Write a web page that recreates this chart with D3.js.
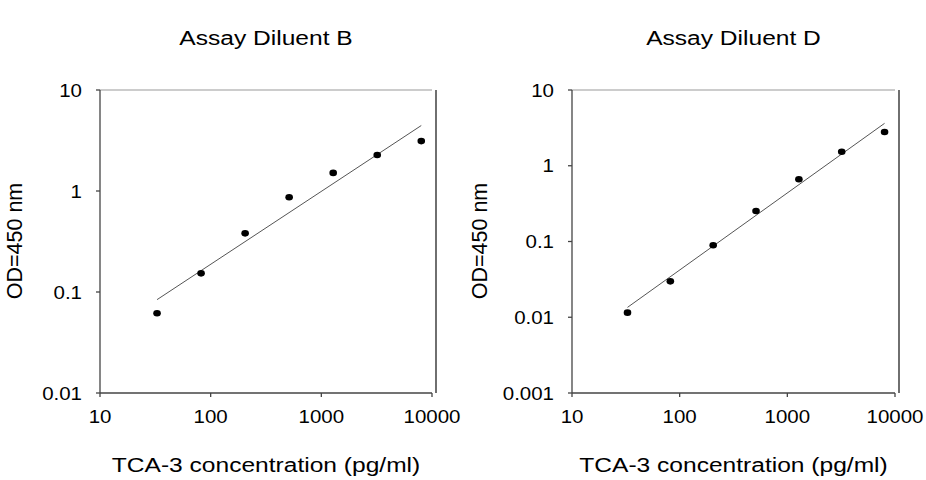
<!DOCTYPE html>
<html>
<head>
<meta charset="utf-8">
<script src="https://cdn.jsdelivr.net/npm/d3@7"></script>
<style>
	body { margin: 0; background: #fff; }
	svg { display: block; }
	text { font-family: "Liberation Sans", Arial, sans-serif; fill: #000; }
</style>
</head>
<body>
<div id="chart"></div>
<script>
// concentrations of the standard curve (pg/ml)
const concentrations = [32.768, 81.92, 204.8, 512, 1280, 3200, 8000];
// OD at 450 nm
const odDiluentB = [0.0615, 0.153, 0.381, 0.866, 1.51, 2.27, 3.12];
const odDiluentD = [0.0115, 0.0298, 0.0891, 0.253, 0.662, 1.53, 2.79];
// fitted line, value at the first and last concentration
const fitDiluentB = [0.084, 4.45];
const fitDiluentD = [0.0135, 3.63];

const xTicks = [10, 100, 1000, 10000];
const yTicksB = [0.01, 0.1, 1, 10];
const yTicksD = [0.001, 0.01, 0.1, 1, 10];

const width = 926;
const height = 480;
const stretch = 1.17; // the text in the picture is a bit wide

const svg = d3
	.select("#chart")
	.append("svg")
	.attr("width", width)
	.attr("height", height);

function drawPanel(opts) {
	const x = d3.scaleLog().domain([10, 10000]).range([opts.left, opts.right]);
	const y = d3.scaleLog().domain(opts.yDomain).range([393, 90]);

	const g = svg.append("g");
	const frameRight = opts.right + 4;

	// frame
	g.append("line")
		.attr("x1", opts.left).attr("x2", opts.right)
		.attr("y1", 90).attr("y2", 90)
		.attr("stroke", "#999").attr("stroke-width", 1.2);
	g.append("line")
		.attr("x1", frameRight).attr("x2", frameRight)
		.attr("y1", 90).attr("y2", 393)
		.attr("stroke", "#222").attr("stroke-width", 1.3);

	// x axis
	g.append("line")
		.attr("x1", opts.left).attr("x2", opts.right)
		.attr("y1", 393).attr("y2", 393)
		.attr("stroke", "#444").attr("stroke-width", 1.3);
	g.selectAll(".xtick")
		.data(xTicks)
		.enter()
		.append("line")
		.attr("x1", (d) => x(d)).attr("x2", (d) => x(d))
		.attr("y1", 393).attr("y2", 397)
		.attr("stroke", "#444").attr("stroke-width", 1.3);
	g.selectAll(".xlabel")
		.data(xTicks)
		.enter()
		.append("text")
		.attr("transform", (d) => `translate(${x(d)},423) scale(${stretch},1)`)
		.attr("text-anchor", "middle")
		.style("font-size", "17.5px")
		.text((d) => d);

	// y axis
	g.append("line")
		.attr("x1", opts.left).attr("x2", opts.left)
		.attr("y1", 90).attr("y2", 393)
		.attr("stroke", "#444").attr("stroke-width", 1.3);
	g.selectAll(".ytick")
		.data(opts.yTicks)
		.enter()
		.append("line")
		.attr("x1", opts.left - 4).attr("x2", opts.left)
		.attr("y1", (d) => y(d)).attr("y2", (d) => y(d))
		.attr("stroke", "#444").attr("stroke-width", 1.3);
	g.selectAll(".ylabel")
		.data(opts.yTicks)
		.enter()
		.append("text")
		.attr("transform", (d) => `translate(${opts.left - 18},${y(d) + 6.5}) scale(${stretch},1)`)
		.attr("text-anchor", "end")
		.style("font-size", "17.5px")
		.text((d) => d);

	// fitted line
	const line = d3.line()
		.x((d) => x(d[0]))
		.y((d) => y(d[1]));
	const ends = [concentrations[0], concentrations[concentrations.length - 1]];
	g.append("path")
		.datum(ends.map((c, i) => [c, opts.fit[i]]))
		.attr("d", line)
		.attr("fill", "none")
		.attr("stroke", "#555")
		.attr("stroke-width", 1);

	// points
	g.selectAll(".dot")
		.data(concentrations.map((c, i) => [c, opts.values[i]]))
		.enter()
		.append("ellipse")
		.attr("cx", (d) => x(d[0]))
		.attr("cy", (d) => y(d[1]))
		.attr("rx", 3.8)
		.attr("ry", 3.3)
		.attr("fill", "#000");

	const mid = (opts.left + frameRight) / 2;

	// titles
	g.append("text")
		.attr("transform", `translate(${mid - 2},45) scale(${stretch},1)`)
		.attr("text-anchor", "middle")
		.style("font-size", "21px")
		.text(opts.title);

	g.append("text")
		.attr("transform", `translate(${mid - 2},472) scale(${stretch},1)`)
		.attr("text-anchor", "middle")
		.style("font-size", "21px")
		.text("TCA-3 concentration (pg/ml)");

	g.append("text")
		.attr("transform", `translate(${opts.yTitleX},241) rotate(-90)`)
		.attr("text-anchor", "middle")
		.style("font-size", "21.5px")
		.text("OD=450 nm");
}

drawPanel({
	title: "Assay Diluent B",
	left: 100,
	right: 432,
	yDomain: [0.01, 10],
	yTicks: yTicksB,
	values: odDiluentB,
	fit: fitDiluentB,
	yTitleX: 22
});

drawPanel({
	title: "Assay Diluent D",
	left: 572,
	right: 895,
	yDomain: [0.001, 10],
	yTicks: yTicksD,
	values: odDiluentD,
	fit: fitDiluentD,
	yTitleX: 487
});
</script>
</body>
</html>
